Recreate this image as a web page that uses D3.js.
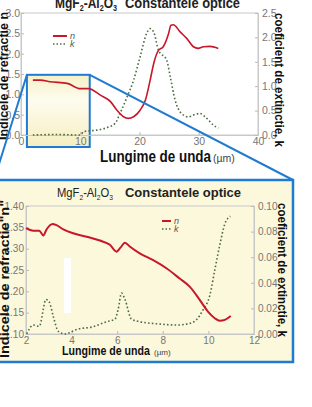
<!DOCTYPE html>
<html>
<head>
<meta charset="utf-8">
<script src="https://cdn.jsdelivr.net/npm/d3@7"></script>
<style>
  body { margin: 0; background: white; }
  svg { display: block; font-family: "Liberation Sans", Arial, sans-serif; }
</style>
</head>
<body>
<svg width="312" height="407"></svg>
<script>
// overview panel, 0-40 um
const topWl = [2, 3.3, 4.9, 7.8, 10, 11.4, 13.4, 15.1, 16.2, 17.3, 18.1, 19, 20.1, 21, 21.8, 22.4, 23.2, 24, 24.9, 25.3, 25.7, 26.9, 28, 29.1, 29.9, 30.8, 31.9, 33.3];
const topN  = [1.35, 1.35, 1.31, 1.27, 1.14, 1.14, 0.98, 0.82, 0.61, 0.45, 0.41, 0.45, 0.61, 0.86, 1.35, 1.76, 2.08, 2.17, 2.49, 2.70, 2.71, 2.53, 2.37, 2.17, 2.13, 2.17, 2.18, 2.13];
const topKWl = [2, 6, 10, 10.6, 12.8, 14.5, 15.9, 16.7, 17.9, 19, 20.1, 21.2, 21.8, 22.4, 23.2, 24.6, 25.2, 26, 27.1, 28.3, 29.1, 30.2, 31.1, 32.5, 33.3];
const topK   = [0, 0.01, 0, 0.07, 0.1, 0.15, 0.24, 0.44, 0.78, 1.12, 1.6, 2.08, 2.18, 2.11, 1.74, 1.53, 1.19, 0.72, 0.44, 0.37, 0.41, 0.44, 0.37, 0.2, 0.14];
const topXTicks = [0, 10, 20, 30, 40];
const topNTicks = [0, 0.5, 1.0, 1.5, 2.0, 2.5, 3.0];
const topKTicks = [0, 0.5, 1.0, 1.5, 2.0, 2.5];

// zoomed panel, 2-12 um
const zoomWl = [2.0, 2.32, 2.58, 2.76, 2.9, 3.17, 3.34, 3.64, 4.07, 4.66, 5.24, 5.68, 5.97, 6.15, 6.34, 6.55, 6.99, 7.58, 8.16, 8.74, 9.18, 9.62, 9.99, 10.28, 10.5, 10.72, 10.98];
const zoomN  = [1.348, 1.342, 1.342, 1.331, 1.345, 1.358, 1.355, 1.345, 1.336, 1.328, 1.319, 1.309, 1.293, 1.303, 1.314, 1.305, 1.289, 1.273, 1.254, 1.230, 1.211, 1.180, 1.152, 1.137, 1.131, 1.133, 1.142];
const zoomKWl = [2.03, 2.32, 2.58, 2.88, 3.02, 3.2, 3.42, 3.71, 4.22, 4.95, 5.53, 5.9, 6.04, 6.19, 6.34, 6.63, 6.99, 7.87, 8.6, 9.18, 9.47, 9.77, 10.06, 10.28, 10.5, 10.72, 10.96];
const zoomK   = [0.0, 0.007, 0.006, 0.027, 0.025, 0.0135, 0.002, 0.0, 0.0036, 0.0057, 0.0096, 0.0115, 0.019, 0.032, 0.027, 0.0115, 0.0096, 0.0078, 0.007, 0.0083, 0.011, 0.019, 0.030, 0.050, 0.0695, 0.086, 0.092];
const zoomXTicks = [2, 4, 6, 8, 10, 12];
const zoomNTicks = [1.10, 1.15, 1.20, 1.25, 1.30, 1.35, 1.40];
const zoomKTicks = [0, 0.02, 0.04, 0.06, 0.08, 0.10];

const svg = d3.select("svg");
const red = "#c8162a", green = "#4d6b45", blue = "#1f7bd1", grey = "#777";

// gradient for the zoom window
const grad = svg.append("defs").append("linearGradient")
    .attr("id", "win").attr("x1", 0).attr("y1", 0).attr("x2", 0).attr("y2", 1);
grad.append("stop").attr("offset", "0%").attr("stop-color", "#f6f0c6");
grad.append("stop").attr("offset", "35%").attr("stop-color", "#fefcef");
grad.append("stop").attr("offset", "100%").attr("stop-color", "#f6eec0");

function title(x, y, size, weightFirst, len) {
    const t = svg.append("text").attr("x", x).attr("y", y)
        .attr("font-size", size).attr("fill", "#222").attr("font-weight", weightFirst)
        .attr("textLength", len).attr("lengthAdjust", "spacingAndGlyphs");
    t.append("tspan").text("MgF");
    t.append("tspan").attr("font-size", size * 0.6).attr("dy", 3).text("2");
    t.append("tspan").attr("dy", -3).text("-Al");
    t.append("tspan").attr("font-size", size * 0.6).attr("dy", 3).text("2");
    t.append("tspan").attr("dy", -3).text("O");
    t.append("tspan").attr("font-size", size * 0.6).attr("dy", 3).text("3");
    return t;
}

function panel(p) {
    const x = d3.scaleLinear().domain(p.xDom).range(p.xRange);
    const yN = d3.scaleLinear().domain(p.nDom).range(p.yRange);
    const yK = d3.scaleLinear().domain(p.kDom).range(p.yRange);
    const g = svg.append("g");

    g.append("rect")
        .attr("x", p.xRange[0]).attr("y", p.yRange[1])
        .attr("width", p.xRange[1] - p.xRange[0])
        .attr("height", p.yRange[0] - p.yRange[1])
        .attr("fill", "none").attr("stroke", "#c8c8c8");

    if (p.before) p.before(g, x, yN);

    const fmt = d3.format(p.fmt);
    const ax = g.append("g").attr("transform", `translate(0,${p.yRange[0]})`)
        .call(d3.axisBottom(x).tickValues(p.xTicks).tickSize(-3).tickPadding(p.xPad).tickFormat(d3.format("d")));
    const al = g.append("g").attr("transform", `translate(${p.xRange[0]},0)`)
        .call(d3.axisLeft(yN).tickValues(p.nTicks).tickSize(-3).tickPadding(p.lPad).tickFormat(fmt));
    const ar = g.append("g").attr("transform", `translate(${p.xRange[1]},0)`)
        .call(d3.axisRight(yK).tickValues(p.kTicks).tickSize(-3).tickPadding(p.rPad).tickFormat(fmt));
    [ax, al, ar].forEach(a => {
        a.select(".domain").attr("stroke", "#c8c8c8");
        a.selectAll(".tick line").attr("stroke", "#bbb");
        a.selectAll(".tick text").attr("fill", grey).attr("font-size", p.tickSize)
            .attr("font-family", "Liberation Sans, Arial, sans-serif");
    });

    const lineN = d3.line().x((d, i) => x(p.wl[i])).y(d => yN(d)).curve(d3.curveMonotoneX);
    const lineK = d3.line().x((d, i) => x(p.kwl[i])).y(d => yK(d)).curve(d3.curveMonotoneX);
    g.append("path").datum(p.k).attr("d", lineK)
        .attr("fill", "none").attr("stroke", green).attr("stroke-width", 1.6)
        .attr("stroke-dasharray", "1.6,2.2");
    g.append("path").datum(p.n).attr("d", lineN)
        .attr("fill", "none").attr("stroke", red).attr("stroke-width", p.nWidth);

    // legend
    const lg = g.append("g").attr("transform", `translate(${p.legend[0]},${p.legend[1]})`);
    lg.append("line").attr("x1", 0).attr("x2", p.legLen).attr("y1", 0).attr("y2", 0)
        .attr("stroke", red).attr("stroke-width", 2);
    lg.append("line").attr("x1", 0).attr("x2", p.legLen).attr("y1", 8).attr("y2", 8)
        .attr("stroke", green).attr("stroke-width", 1.5).attr("stroke-dasharray", "1.5,2");
    lg.append("text").attr("x", p.legLen + 3).attr("y", 3).text("n");
    lg.append("text").attr("x", p.legLen + 3).attr("y", 11).text("k");
    lg.selectAll("text").attr("font-size", 9).attr("font-style", "italic").attr("fill", "#555");

    // axis titles
    g.append("text").attr("x", p.xLabel[0]).attr("y", p.xLabel[1]).attr("fill", "#111")
        .attr("font-weight", "bold").attr("font-size", p.xLabelSize)
        .attr("textLength", p.xLabelLen).attr("lengthAdjust", "spacingAndGlyphs").text("Lungime de unda");
    g.append("text").attr("x", p.xLabel[0] + p.xLabelLen + p.unitGap).attr("y", p.xLabel[1])
        .attr("font-size", p.xLabelSize * 0.62).attr("fill", "#444").text("(µm)");

    g.append("text")
        .attr("transform", `translate(${p.kLabel[0]},${p.kLabel[1]}) rotate(90)`)
        .attr("font-weight", "bold").attr("font-size", 13).attr("fill", "#111")
        .attr("textLength", 134).attr("lengthAdjust", "spacingAndGlyphs")
        .text("coeficient de extinctie, k");
    g.append("text")
        .attr("transform", `translate(${p.nLabel[0]},${p.nLabel[1]}) rotate(-90)`)
        .attr("font-weight", "bold").attr("font-size", 13).attr("fill", "#111")
        .attr("textLength", p.nLabelLen).attr("lengthAdjust", "spacingAndGlyphs")
        .text(p.nLabelText);

    return {x, yN};
}

// ---- lower (zoomed) panel background box
svg.append("rect").attr("x", -6).attr("y", 180).attr("width", 299).attr("height", 182)
    .attr("fill", "#fbf8dc").attr("stroke", blue).attr("stroke-width", 2.5);

// ---- top panel
title(55, 8, 14, "bold", 62);
svg.append("text").attr("x", 125).attr("y", 8).attr("font-size", 15).attr("font-weight", "bold")
    .attr("fill", "#222").attr("textLength", 115).attr("lengthAdjust", "spacingAndGlyphs").text("Constantele optice");

let win;
panel({
    xDom: [0, 40], xRange: [21, 258], nDom: [0, 3], kDom: [0, 2.5], yRange: [135, 13],
    xTicks: topXTicks, nTicks: topNTicks, kTicks: topKTicks, fmt: ".1f",
    xPad: 3, lPad: 1, rPad: 4, tickSize: 10.5,
    wl: topWl, n: topN, kwl: topKWl, k: topK, nWidth: 1.6,
    legend: [53, 36], legLen: 14,
    xLabel: [100, 162], xLabelSize: 17, xLabelLen: 111, unitGap: 2,
    kLabel: [275, 13], nLabel: [8, 140], nLabelLen: 128, nLabelText: "Indicele de refractie n",
    before: (g, x, yN) => {
        win = {x0: x(1), x1: x(11.6), y0: yN(1.48), y1: yN(0) + 12};
        g.append("rect").attr("x", win.x0).attr("y", win.y0)
            .attr("width", win.x1 - win.x0).attr("height", win.y1 - win.y0)
            .attr("fill", "url(#win)").attr("stroke", blue).attr("stroke-width", 2);
    }
});

// ---- lower panel
title(57, 197, 12, "normal", 56);
svg.append("text").attr("x", 125).attr("y", 197).attr("font-size", 13).attr("font-weight", "bold")
    .attr("fill", "#222").attr("textLength", 116).attr("lengthAdjust", "spacingAndGlyphs").text("Constantele optice");

panel({
    xDom: [2, 12], xRange: [26, 254], nDom: [1.10, 1.40], kDom: [0, 0.10], yRange: [334, 206],
    xTicks: zoomXTicks, nTicks: zoomNTicks, kTicks: zoomKTicks, fmt: ".2f",
    xPad: 3, lPad: 2, rPad: 4, tickSize: 10,
    wl: zoomWl, n: zoomN, kwl: zoomKWl, k: zoomK, nWidth: 2,
    legend: [162, 221], legLen: 9,
    xLabel: [62, 355], xLabelSize: 13, xLabelLen: 88, unitGap: 4,
    kLabel: [278, 203], nLabel: [9, 358], nLabelLen: 158, nLabelText: "Indicele de refractie\"n\"",
    before: (g) => {
        g.append("rect").attr("x", 64).attr("y", 258).attr("width", 7).attr("height", 55).attr("fill", "#fff");
    }
});

// connector lines from the zoom window to the lower box
svg.append("line").attr("x1", win.x0).attr("y1", win.y0).attr("x2", -6).attr("y2", 180)
    .attr("stroke", blue).attr("stroke-width", 2);
svg.append("line").attr("x1", win.x1).attr("y1", win.y0).attr("x2", 293).attr("y2", 180)
    .attr("stroke", blue).attr("stroke-width", 2);
</script>
</body>
</html>
